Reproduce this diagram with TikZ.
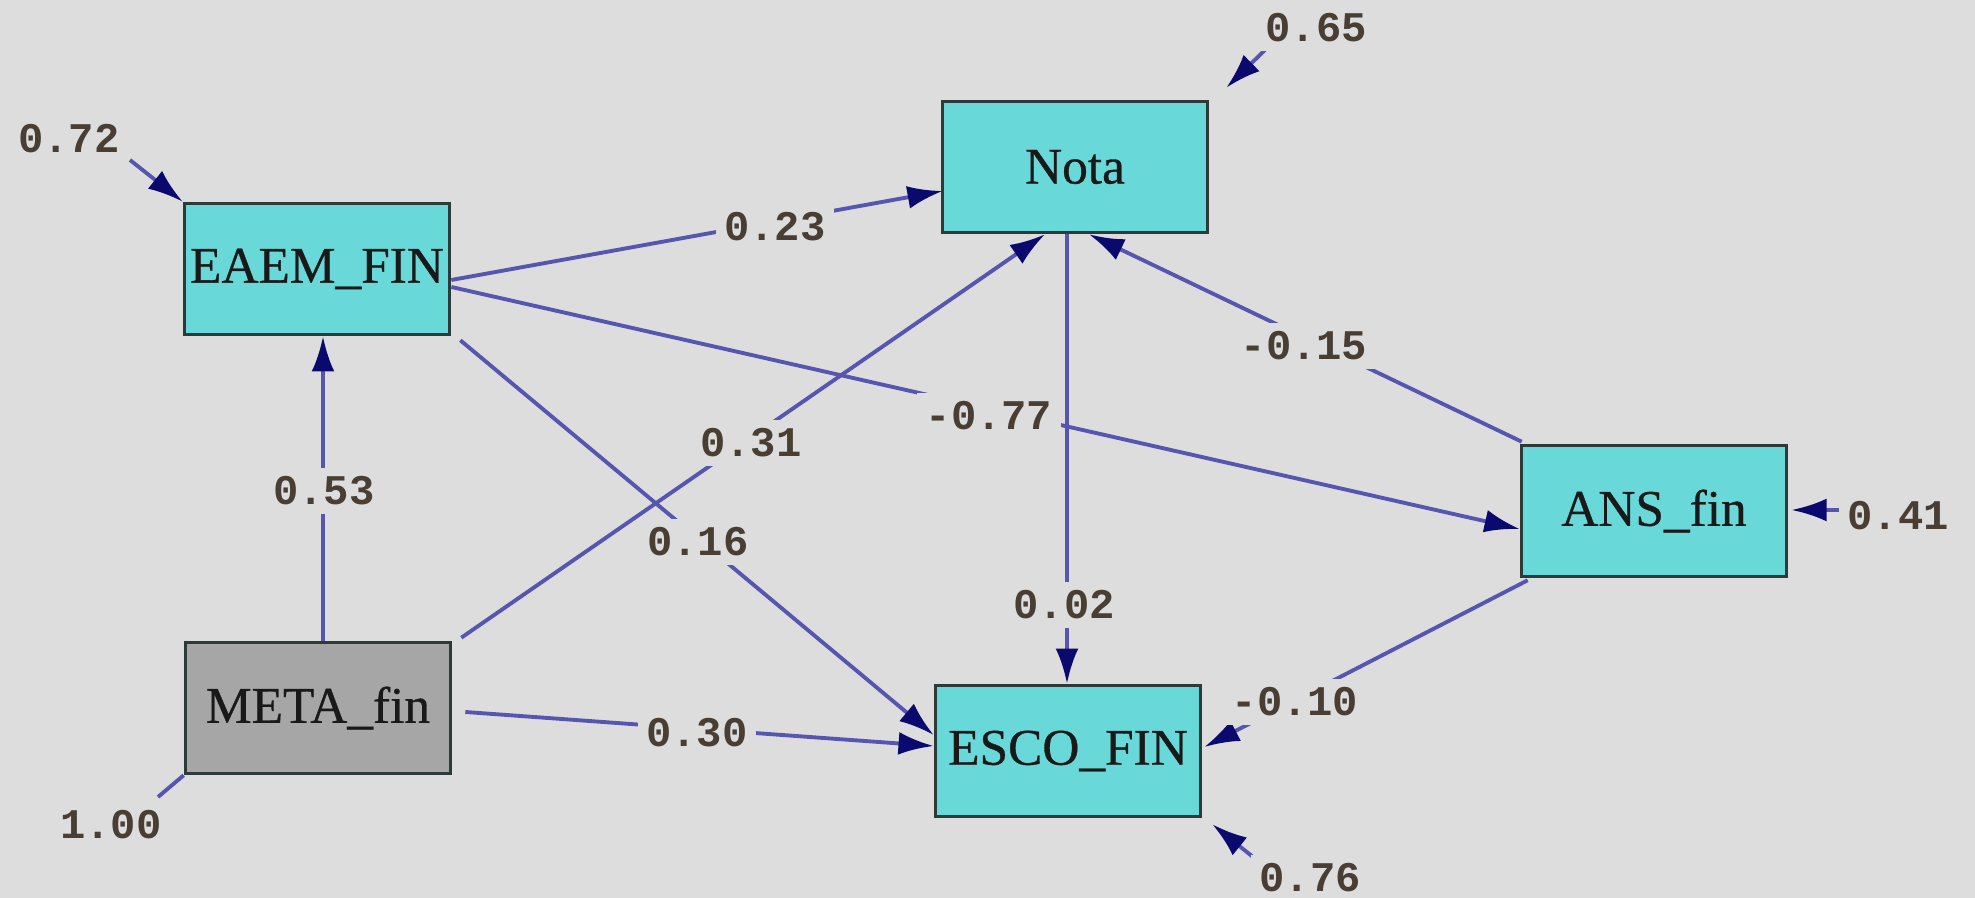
\documentclass[tikz,border=0pt]{standalone}
\usepackage{fontspec}
\setmainfont{Liberation Serif}
\newfontfamily\boxfont{Liberation Serif}[FakeBold=0.6]
\newfontfamily\coeffont{Liberation Mono}
\usetikzlibrary{arrows.meta,calc}
\definecolor{bgcol}{RGB}{222,221,221}
\definecolor{boxfill}{RGB}{104,216,216}
\definecolor{exofill}{RGB}{166,166,166}
\definecolor{boxline}{RGB}{45,58,58}
\definecolor{pathcol}{RGB}{86,86,176}
\definecolor{tipcol}{RGB}{10,10,110}
\definecolor{coefcol}{RGB}{72,62,52}
\begin{document}
\begin{tikzpicture}[x=0.01cm,y=-0.01cm,
  var/.style={draw=boxline, line width=1pt, fill=boxfill,
    minimum width=2.65cm, minimum height=1.31cm, inner sep=0pt,
    font=\boxfont\fontsize{14.6}{16}\selectfont, text=black!90},
  exo/.style={var, fill=exofill},
  coef/.style={font=\coeffont\bfseries\fontsize{12}{14}\selectfont,
    text=coefcol, fill=bgcol, inner sep=2.5pt},
  effect/.style={draw=pathcol, line width=1.1pt,
    -{Latex[length=10pt,width=6.5pt,color=tipcol]}},
  bare/.style={draw=pathcol, line width=1.1pt}
]
% canvas
\fill[bgcol] (0,0) rectangle (1975,898);
\useasboundingbox (0,0) rectangle (1975,898);

% observed variables
\node[var] (eaem) at (317,269) {EAEM\_FIN};
\node[var] (nota) at (1075,167) {Nota};
\node[var] (ans)  at (1654,511) {ANS\_fin};
\node[exo] (meta) at (318,708) {META\_fin};
\node[var] (esco) at (1068,751) {ESCO\_FIN};

% free ends of the error terms
\coordinate (e72)  at (130,160);
\coordinate (e65)  at (1265,50);
\coordinate (e41)  at (1843,510);
\coordinate (e76)  at (1253,857);
\coordinate (e100) at (158,797);

% structural paths
\draw[effect] ($(eaem.east)+(0,11)$) -- ($(nota.west)+(2,24)$);
\draw[effect] ($(eaem.east)+(0,18)$) -- ($(ans.west)+(0,18)$);
\draw[effect] ($(eaem.south east)+(9,4)$) -- ($(esco.west)+(0,-16)$);
\draw[effect] ($(meta.north)+(5,0)$) -- ($(eaem.south)+(6,0)$);
\draw[effect] ($(meta.north east)+(9,-3)$) -- ($(nota.south)+(-30,0)$);
\draw[effect] ($(meta.east)+(13,4)$) -- ($(esco.west)+(0,-5)$);
\draw[effect] ($(nota.south)+(-8,0)$) -- ($(esco.north)+(-1,0)$);
\draw[effect] ($(ans.north west)+(2,-2)$) -- ($(nota.south)+(14,0)$);
\draw[effect] ($(ans.south west)+(8,2)$) -- ($(esco.east)+(2,-4)$);

% error terms
\draw[effect] (e72) -- (eaem.north west);
\draw[effect] (e65) -- ($(nota.north east)+(17,-12)$);
\draw[effect] (e41) -- ($(ans.east)+(3,-1)$);
\draw[effect] (e76) -- ($(esco.south east)+(10,6)$);
\draw[bare] (meta.south west) -- (e100);

% coefficients
\node[coef] (c23) at (775,227) {0.23};
\node[coef] (c77) at (989,416) {-0.77};
\node[coef] (c16) at (698,542) {0.16};
\node[coef] (c53) at (324,491) {0.53};
\node[coef] (c31) at (751,443) {0.31};
\node[coef] (c30) at (697,733) {0.30};
\node[coef] (c02) at (1064,605) {0.02};
\node[coef] (c15) at (1304,346) {-0.15};
\node[coef] (c10) at (1295,702) {-0.10};

\node[coef] (v72)  at (69,139)   {0.72};
\node[coef] (v65)  at (1316,28)  {0.65};
\node[coef] (v41)  at (1898,516) {0.41};
\node[coef] (v76)  at (1310,878) {0.76};
\node[coef] (v100) at (111,825)  {1.00};
\end{tikzpicture}
\end{document}
